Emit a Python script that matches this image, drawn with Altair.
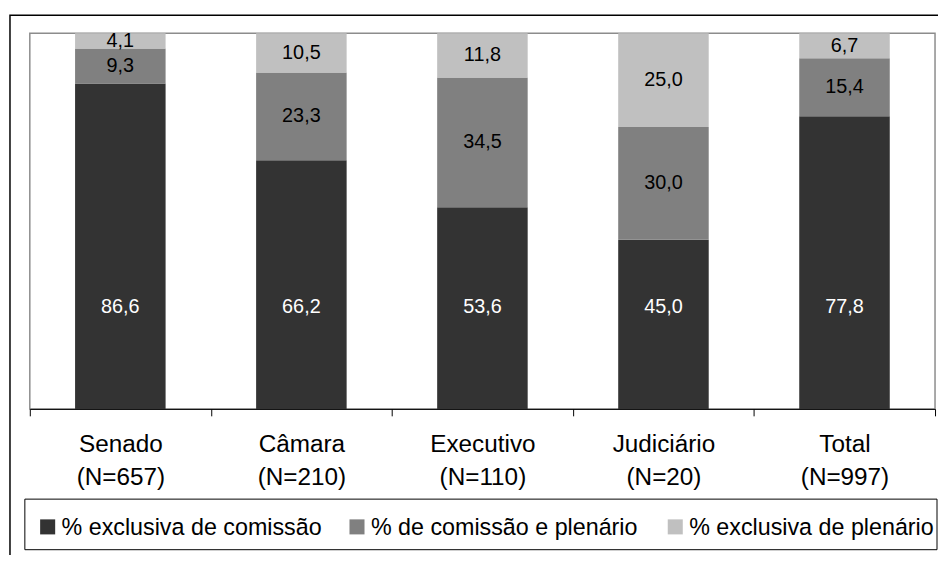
import altair as alt
import pandas as pd

# ---- data ----
categories = ["Senado", "Câmara", "Executivo", "Judiciário", "Total"]
n_values = [657, 210, 110, 20, 997]
series = ["% exclusiva de comissão", "% de comissão e plenário", "% exclusiva de plenário"]
excl_comissao = [86.6, 66.2, 53.6, 45.0, 77.8]
comissao_plenario = [9.3, 23.3, 34.5, 30.0, 15.4]
excl_plenario = [4.1, 10.5, 11.8, 25.0, 6.7]
colors = ["#333333", "#808080", "#c0c0c0"]
dark_label_level = 0.27  # the dark-segment labels sit at a common height

FONT = "Liberation Sans"

cat_labels = [f"{c}|(N={n})" for c, n in zip(categories, n_values)]
rows = []
for i, lab in enumerate(cat_labels):
    for k, (s, vals) in enumerate(zip(series, [excl_comissao, comissao_plenario, excl_plenario])):
        rows.append({"cat": lab, "serie": s, "ordem": k, "valor": vals[i],
                     "texto": f"{vals[i]:.1f}".replace(".", ",")})
df = pd.DataFrame(rows)

color_scale = alt.Scale(domain=series, range=colors)
x_scale = alt.Scale(paddingInner=0, paddingOuter=0)
y_scale = alt.Scale(domain=[0, 1], nice=False, zero=True)

base = alt.Chart(df).transform_stack(
    stack="valor", groupby=["cat"], as_=["y0", "y1"], offset="normalize",
    sort=[alt.SortField("ordem", order="ascending")]
).transform_calculate(
    ypos=f"datum.ordem == 0 ? {dark_label_level} : (datum.y0 + datum.y1) / 2"
)

bars = base.mark_bar(strokeWidth=0, width=alt.RelativeBandSize(0.5)).encode(
    x=alt.X("cat:N", sort=cat_labels, scale=x_scale,
            axis=alt.Axis(title=None, labelExpr="split(datum.label, '|')", labelAngle=0,
                          labelFont=FONT, labelFontSize=24.5, labelColor="#000000",
                          labelPadding=17, labelLineHeight=33, tickBand="extent",
                          tickSize=7, tickColor="#000000", domainColor="#000000",
                          domainWidth=1, tickWidth=1, grid=False)),
    y=alt.Y("y0:Q", scale=y_scale, axis=None),
    y2="y1:Q",
    color=alt.Color("serie:N", scale=color_scale, legend=None),
)

labels = base.mark_text(font=FONT, fontSize=20, baseline="middle", align="center").encode(
    x=alt.X("cat:N", sort=cat_labels, scale=x_scale, axis=None),
    y=alt.Y("ypos:Q", scale=y_scale, axis=None),
    text="texto:N",
    color=alt.condition(alt.datum.ordem == 0, alt.value("#ffffff"), alt.value("#000000")),
)

# ---- manual legend (layout positions in plot pixels) ----
legend_x = [18, 330, 651]
legend_y = 498
leg_df = pd.DataFrame({"serie": series})
legend_layers = []
for s, lx in zip(series, legend_x):
    sub = alt.Chart(leg_df).transform_filter(alt.datum.serie == s)
    legend_layers.append(sub.mark_square(size=230, opacity=1).encode(
        x=alt.value(lx), y=alt.value(legend_y),
        color=alt.Color("serie:N", scale=color_scale, legend=None)))
    legend_layers.append(sub.mark_text(font=FONT, fontSize=23.5, align="left",
                                       baseline="middle", dx=14, color="#000000").encode(
        x=alt.value(lx), y=alt.value(legend_y + 1), text="serie:N"))

frame_df = pd.DataFrame({"a": [0]})
legend_box = alt.Chart(frame_df).mark_rect(fillOpacity=0, stroke="#000000", strokeWidth=1).encode(
    x=alt.value(-5), x2=alt.value(915), y=alt.value(470), y2=alt.value(521))
outer_frame = alt.Chart(frame_df).mark_rect(fillOpacity=0, stroke="#000000", strokeWidth=1.5).encode(
    x=alt.value(-20), x2=alt.value(1000), y=alt.value(-18), y2=alt.value(800))

chart = alt.layer(bars, labels, *legend_layers, legend_box, outer_frame).resolve_scale(
    x="independent"
).properties(
    width=913, height=379,
    autosize=alt.AutoSizeParams(type="none"),
    padding={"left": 22, "top": 23, "right": 3, "bottom": 145},
    background="#ffffff",
).configure_view(stroke="#8c8c8c", strokeWidth=1.5)

chart.save("out.html", embed_options={"renderer": "svg", "actions": False})
